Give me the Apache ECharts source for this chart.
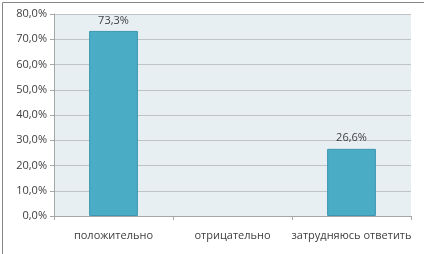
<!DOCTYPE html>
<html><head><meta charset="utf-8">
<script src="https://cdn.jsdelivr.net/npm/echarts@6/dist/echarts.min.js"></script>
<style>html,body{margin:0;padding:0;background:#fff}#c{width:424px;height:254px}</style>
</head><body><div id="c"></div>
<script>
const categories = ['положительно', 'отрицательно', 'затрудняюсь ответить'];
const values = [73.3, 0, 26.6];
const yTicks = [0, 10, 20, 30, 40, 50, 60, 70, 80];

const chart = echarts.init(document.getElementById('c'), null, {renderer: 'canvas'});
const fmt = v => v.toFixed(1).replace('.', ',') + '%';
const font = 'Open Sans, DejaVu Sans, sans-serif';
chart.setOption({
  animation: false,
  backgroundColor: '#fff',
  graphic: [{
    type: 'rect', left: 0, top: 0, silent: true,
    shape: {x: 0.5, y: 0.5, width: 423, height: 253},
    style: {fill: 'none', stroke: '#868686', lineWidth: 1}
  }],
  grid: {left: 54, right: 13, top: 14, bottom: 38, show: true, backgroundColor: '#E8EFF3', borderWidth: 0},
  xAxis: {
    type: 'category', data: categories,
    axisLine: {lineStyle: {color: '#A6A6A6'}},
    axisTick: {show: true, alignWithLabel: false, length: 4, lineStyle: {color: '#A6A6A6'}},
    axisLabel: {interval: 0, color: '#404040', fontSize: 11, fontFamily: font, margin: 14}
  },
  yAxis: {
    type: 'value', min: yTicks[0], max: yTicks[yTicks.length - 1], interval: 10,
    axisLine: {show: true, lineStyle: {color: '#A6A6A6'}},
    axisTick: {show: true, length: 4, inside: false, lineStyle: {color: '#A6A6A6'}},
    splitLine: {lineStyle: {color: '#BFC3C6', width: 1}},
    axisLabel: {color: '#404040', fontSize: 11, fontFamily: font, margin: 7, formatter: v => fmt(v)}
  },
  series: [{
    type: 'bar', barWidth: '41%',
    data: values.map(v => v ? v : {value: v, itemStyle: {borderWidth: 0, opacity: 0}}),
    itemStyle: {color: '#4BACC6', borderColor: '#3C97AF', borderWidth: 1},
    label: {
      show: true, position: 'top', distance: 5, color: '#404040', fontSize: 11,
      fontFamily: font,
      formatter: p => p.value ? fmt(p.value) : ''
    }
  }]
});
</script></body></html>
